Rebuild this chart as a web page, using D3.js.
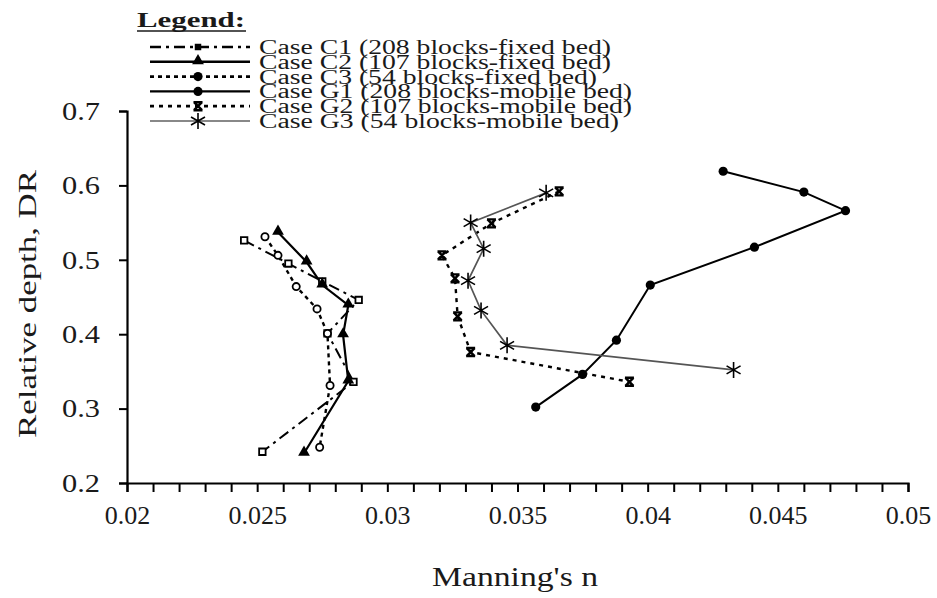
<!DOCTYPE html>
<html>
<head>
<meta charset="utf-8">
<script src="https://cdn.jsdelivr.net/npm/d3@7"></script>
<style>
body { margin: 0; background: #fff; }
svg text { font-family: "Times New Roman", Tinos, "Nimbus Roman", "Liberation Serif", Times, serif; fill: #1a1a1a; }
</style>
</head>
<body>
<svg width="937" height="598"></svg>
<script>
// values: Manning's n against relative depth DR
let c1N = [0.0245, 0.0262, 0.0275, 0.0289, 0.0277, 0.0287, 0.0252]
let c1DR = [0.526, 0.495, 0.471, 0.446, 0.401, 0.336, 0.242]
let c2N = [0.0258, 0.0269, 0.0275, 0.0285, 0.0283, 0.0285, 0.0268]
let c2DR = [0.537, 0.497, 0.466, 0.439, 0.399, 0.337, 0.240]
let c3N = [0.0253, 0.0258, 0.0265, 0.0273, 0.0277, 0.0278, 0.0274]
let c3DR = [0.531, 0.506, 0.464, 0.434, 0.401, 0.331, 0.248]
let g1N = [0.0429, 0.0460, 0.0476, 0.0441, 0.0401, 0.0388, 0.0375, 0.0357]
let g1DR = [0.619, 0.591, 0.566, 0.517, 0.466, 0.392, 0.346, 0.302]
let g2N = [0.0366, 0.0340, 0.0321, 0.0326, 0.0327, 0.0332, 0.0393]
let g2DR = [0.592, 0.549, 0.506, 0.475, 0.424, 0.376, 0.336]
let g3N = [0.0361, 0.0332, 0.0337, 0.0331, 0.0336, 0.0346, 0.0433]
let g3DR = [0.590, 0.550, 0.515, 0.472, 0.432, 0.385, 0.352]

let caseLabels = [
    "Case C1 (208 blocks-fixed bed)",
    "Case C2 (107 blocks-fixed bed)",
    "Case C3 (54 blocks-fixed bed)",
    "Case G1 (208 blocks-mobile bed)",
    "Case G2 (107 blocks-mobile bed)",
    "Case G3 (54 blocks-mobile bed)"
]
let xTicks = [0.02, 0.025, 0.03, 0.035, 0.04, 0.045, 0.05]
let yTicks = [0.2, 0.3, 0.4, 0.5, 0.6, 0.7]

function zip(ns, drs) {
    return ns.map((n, i) => ({n: n, dr: drs[i]}))
}

let svg = d3.select("svg")
let x = d3.scaleLinear().domain([0.02, 0.05]).range([127, 908])
let y = d3.scaleLinear().domain([0.2, 0.7]).range([483, 111])

let starPath = "M0,-8V8M-7,-4L7,4M-7,4L7,-4"
let hourPath = "M-4,-4L4,4M4,-4L-4,4M-4.5,-4H4.5M-4.5,4H4.5"

let series = [
    {data: zip(c1N, c1DR), dash: "11,5,3,5", width: 2, color: "#000",
     mark: "square", legendMark: "squareFill"},
    {data: zip(c2N, c2DR), dash: null, width: 2.2, color: "#000",
     mark: "triangle", legendMark: "triangle"},
    {data: zip(c3N, c3DR), dash: "4,4", width: 2.4, color: "#000",
     mark: "ring", legendMark: "dot"},
    {data: zip(g1N, g1DR), dash: null, width: 2, color: "#000",
     mark: "dot", legendMark: "dot"},
    {data: zip(g2N, g2DR), dash: "4,5", width: 2.4, color: "#000",
     mark: "hour", legendMark: "hour"},
    {data: zip(g3N, g3DR), dash: null, width: 1.7, color: "#555",
     mark: "star", legendMark: "star"}
]
// text widths measured on the figure (its type is set wider than the fonts here)
let labelWidths = [352, 352, 338, 373, 373, 360]

function drawMark(g, kind) {
    if (kind === "square")
        g.append("path").attr("d", d3.symbol(d3.symbolSquare, 42)())
            .attr("fill", "#fff").attr("stroke", "#000").attr("stroke-width", 1.8)
    else if (kind === "squareFill")
        g.append("path").attr("d", d3.symbol(d3.symbolSquare, 42)()).attr("fill", "#000")
    else if (kind === "triangle")
        g.append("path").attr("d", d3.symbol(d3.symbolTriangle, 60)())
            .attr("transform", "translate(0,-1)").attr("fill", "#000")
    else if (kind === "ring")
        g.append("circle").attr("r", 3.6)
            .attr("fill", "#fff").attr("stroke", "#000").attr("stroke-width", 1.8)
    else if (kind === "dot")
        g.append("circle").attr("r", 4.6).attr("fill", "#000")
    else if (kind === "hour")
        g.append("path").attr("d", hourPath)
            .attr("stroke", "#000").attr("stroke-width", 2.4).attr("fill", "none")
    else if (kind === "star")
        g.append("path").attr("d", starPath)
            .attr("stroke", "#000").attr("stroke-width", 1.6).attr("fill", "none")
}

// axes
let yAxis = svg.append("g")
    .attr("transform", "translate(127,0)")
    .call(d3.axisLeft(y).tickValues(yTicks).tickSize(8).tickPadding(19)
          .tickFormat(d => String(+d.toFixed(1))))
let xAxis = svg.append("g")
    .attr("transform", "translate(0,483)")
    .call(d3.axisBottom(x).tickValues(d3.range(20, 51).map(d => d / 1000))
          .tickSize(9).tickPadding(14)
          .tickFormat(d => xTicks.some(t => Math.abs(t - d) < 1e-9) ? String(+d.toFixed(3)) : ""))

for (let ax of [xAxis, yAxis]) {
    ax.attr("font-family", null)
    ax.select(".domain").attr("stroke", "#000").attr("stroke-width", 2.2)
    ax.selectAll(".tick line").attr("stroke", "#000").attr("stroke-width", 2)
    ax.selectAll("text").attr("font-size", 26).attr("fill", "#1a1a1a")
}
yAxis.selectAll("text").attr("textLength", 38).attr("lengthAdjust", "spacingAndGlyphs")

svg.append("text")
    .attr("x", 515).attr("y", 586)
    .attr("text-anchor", "middle")
    .attr("font-size", 27)
    .attr("textLength", 166)
    .attr("lengthAdjust", "spacingAndGlyphs")
    .text("Manning's n")

svg.append("text")
    .attr("transform", "translate(36,304) rotate(-90)")
    .attr("text-anchor", "middle")
    .attr("font-size", 26)
    .attr("textLength", 268)
    .attr("lengthAdjust", "spacingAndGlyphs")
    .text("Relative depth, DR")

// series
let line = d3.line().x(d => x(d.n)).y(d => y(d.dr))
let plot = svg.append("g")
series.forEach(s => {
    plot.append("path")
        .attr("d", line(s.data))
        .attr("fill", "none")
        .attr("stroke", s.color)
        .attr("stroke-width", s.width)
        .attr("stroke-dasharray", s.dash)
})
series.forEach(s => {
    plot.selectAll(null)
        .data(s.data)
        .enter().append("g")
        .attr("transform", d => "translate(" + x(d.n) + "," + y(d.dr) + ")")
        .each(function () { drawMark(d3.select(this), s.mark) })
})

// legend
let legend = svg.append("g")
legend.append("text")
    .attr("x", 137).attr("y", 27)
    .attr("font-size", 21)
    .attr("font-weight", "bold")
    .attr("textLength", 108)
    .attr("lengthAdjust", "spacingAndGlyphs")
    .text("Legend:")
legend.append("line")
    .attr("x1", 137).attr("x2", 246)
    .attr("y1", 31).attr("y2", 31)
    .attr("stroke", "#1a1a1a").attr("stroke-width", 1.5)

series.forEach((s, i) => {
    let cy = 47 + i * 14.8
    legend.append("line")
        .attr("x1", 150).attr("x2", 250)
        .attr("y1", cy).attr("y2", cy)
        .attr("stroke", i === 5 ? "#888" : s.color)
        .attr("stroke-width", s.width + 0.4)
        .attr("stroke-dasharray", s.dash)
    drawMark(legend.append("g").attr("transform", "translate(198," + cy + ")"), s.legendMark)
    legend.append("text")
        .attr("x", 259).attr("y", cy + 7)
        .attr("font-size", 20)
        .attr("textLength", labelWidths[i])
        .attr("lengthAdjust", "spacingAndGlyphs")
        .text(caseLabels[i])
})
</script>
</body>
</html>
